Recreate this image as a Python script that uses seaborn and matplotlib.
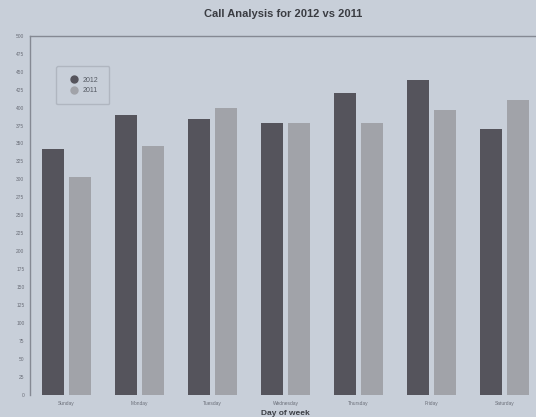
import matplotlib
matplotlib.use("Agg")
import matplotlib.pyplot as plt
from matplotlib.lines import Line2D
import seaborn as sns
import pandas as pd

# values
days = ["Sunday", "Monday", "Tuesday", "Wednesday", "Thursday", "Friday", "Saturday"]
calls_2012 = [342, 389, 384, 378, 420, 438, 370]
calls_2011 = [304, 346, 400, 379, 379, 397, 410]
years = ["2012", "2011"]
y_ticks = list(range(0, 501, 25))

df = pd.DataFrame({
    "day": days * 2,
    "calls": calls_2012 + calls_2011,
    "year": [years[0]] * len(days) + [years[1]] * len(days),
})

bg = "#c8cfd9"
colors = {"2012": "#55545c", "2011": "#a1a3a9"}

sns.set_theme(style="white")
plt.rcParams["font.family"] = ["Liberation Sans", "DejaVu Sans"]

fig = plt.figure(figsize=(5.36, 4.17), dpi=100, facecolor=bg)
ax = fig.add_axes([30 / 536, 22 / 417, 511 / 536, 359.3 / 417])
ax.set_facecolor(bg)

sns.barplot(data=df, x="day", y="calls", hue="year", order=days, hue_order=years,
            palette=colors, width=0.75, gap=0.18, saturation=1, linewidth=0, ax=ax)

ax.set_xlim(-0.5, 6.5)
ax.set_ylim(0, 500)
ax.set_yticks(y_ticks)
ax.tick_params(axis="both", labelsize=3.5, colors="#6a6e78", length=2, pad=2)
ax.set_xlabel("Day of week", fontsize=6, fontweight="bold", color="#3c3f46", labelpad=3)
ax.set_ylabel("")
fig.suptitle("Call Analysis for 2012 vs 2011", x=283 / 536, y=1 - 14 / 417, va="center",
             fontsize=8, fontweight="bold", color="#3a3c42")

for side in ["top", "left"]:
    ax.spines[side].set_color("#858993")
    ax.spines[side].set_linewidth(1.0)
for side in ["right", "bottom"]:
    ax.spines[side].set_visible(False)

handles = [Line2D([], [], marker="o", linestyle="", markersize=5, color=colors[y]) for y in years]
ax.legend(handles, years, loc="upper left", bbox_to_anchor=(0.045, 0.925), fontsize=5,
          frameon=True, facecolor=bg, edgecolor="#aab0ba", handletextpad=0.3,
          borderpad=1.5, labelspacing=0.5, labelcolor="#555a63")

fig.savefig("out.png", dpi=100, facecolor=bg)
